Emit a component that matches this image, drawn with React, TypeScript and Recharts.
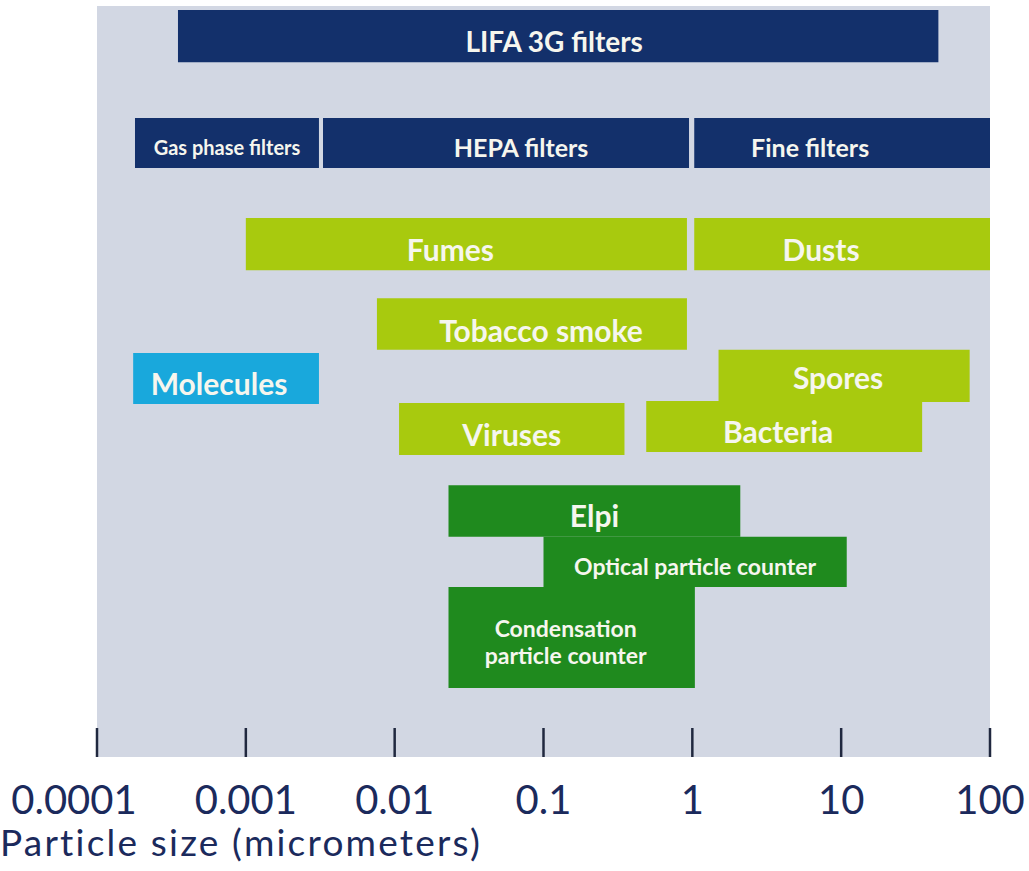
import React from "react";
import { ComposedChart, ReferenceArea, XAxis, YAxis } from "recharts";

// particle size axis (micrometers, log)
const sizeTicks = [0.0001, 0.001, 0.01, 0.1, 1, 10, 100];
const sizeTickLabels = ["0.0001", "0.001", "0.01", "0.1", "1", "10", "100"];

// size ranges in micrometers
const filterNames = ["LIFA 3G filters", "Gas phase filters", "HEPA filters", "Fine filters"];
const filterMin = [0.00035, 0.00018, 0.0033, 1.03];
const filterMax = [45, 0.0031, 0.95, 100];

const particleNames = ["Fumes", "Dusts", "Tobacco smoke", "Molecules", "Spores", "Viruses", "Bacteria"];
const particleMin = [0.001, 1.03, 0.0076, 0.000175, 1.5, 0.0107, 0.49];
const particleMax = [0.92, 100, 0.92, 0.0031, 73, 0.35, 35];

const instrumentNames = ["Elpi", "Optical particle counter", "Condensation\nparticle counter"];
const instrumentMin = [0.023, 0.1, 0.023];
const instrumentMax = [2.1, 10.9, 1.04];

const COLORS = {
  bg: "#d2d7e3",
  navy: "#13306b",
  lime: "#a8ca0e",
  cyan: "#19a8dc",
  green: "#1f8a1e",
  text: "#f6f6ee",
  axis: "#1b2a5c",
};

type Lane = { top: number; bottom: number; color: string; size: number; dx: number; dy: number };

// lane layout (top/bottom in lane units, 0 = top of the panel), colour, font size, label nudge
const layout: Record<string, Lane> = {
  "LIFA 3G filters": { top: 0.08, bottom: 1.1, color: COLORS.navy, size: 28, dx: -4, dy: 5 },
  "Gas phase filters": { top: 2.19, bottom: 3.17, color: COLORS.navy, size: 20, dx: 0, dy: 4 },
  "HEPA filters": { top: 2.19, bottom: 3.17, color: COLORS.navy, size: 25, dx: 15, dy: 4 },
  "Fine filters": { top: 2.19, bottom: 3.17, color: COLORS.navy, size: 25, dx: -32, dy: 4 },
  Fumes: { top: 4.15, bottom: 5.17, color: COLORS.lime, size: 30, dx: -16, dy: 5 },
  Dusts: { top: 4.15, bottom: 5.17, color: COLORS.lime, size: 30, dx: -21, dy: 5 },
  "Tobacco smoke": { top: 5.72, bottom: 6.73, color: COLORS.lime, size: 30, dx: 9, dy: 6 },
  Molecules: { top: 6.79, bottom: 7.79, color: COLORS.cyan, size: 30, dx: -7, dy: 5 },
  Spores: { top: 6.73, bottom: 7.75, color: COLORS.lime, size: 30, dx: -6, dy: 1 },
  Viruses: { top: 7.77, bottom: 8.79, color: COLORS.lime, size: 30, dx: 0, dy: 5 },
  Bacteria: { top: 7.73, bottom: 8.73, color: COLORS.lime, size: 30, dx: -6, dy: 5 },
  Elpi: { top: 9.38, bottom: 10.39, color: COLORS.green, size: 30, dx: 0, dy: 4 },
  "Optical particle counter": { top: 10.39, bottom: 11.37, color: COLORS.green, size: 23, dx: 0, dy: 4 },
  "Condensation\nparticle counter": { top: 11.37, bottom: 13.35, color: COLORS.green, size: 23, dx: -6, dy: 4 },
};

const LANES = 14.7;

const boxes = [
  ...filterNames.map((name, i) => ({ name, lo: filterMin[i], hi: filterMax[i] })),
  ...particleNames.map((name, i) => ({ name, lo: particleMin[i], hi: particleMax[i] })),
  ...instrumentNames.map((name, i) => ({ name, lo: instrumentMin[i], hi: instrumentMax[i] })),
].map((b) => ({ ...b, mid: (layout[b.name].top + layout[b.name].bottom) / 2 }));

const boxLabel = (text: string, lane: Lane) => (props: any) => {
  const { x, y, width, height } = props.viewBox;
  const lines = text.split("\n");
  const cx = x + width / 2 + lane.dx;
  const lh = lane.size * 1.2;
  const startY = y + height / 2 - ((lines.length - 1) * lh) / 2 + lane.dy;
  return (
    <text
      x={cx}
      y={startY}
      textAnchor="middle"
      dominantBaseline="central"
      fill={COLORS.text}
      fontSize={lane.size}
      fontWeight={700}
      fontFamily="Lato, 'Noto Sans', sans-serif"
    >
      {lines.map((line, i) => (
        <tspan key={i} x={cx} dy={i === 0 ? 0 : lh}>
          {line}
        </tspan>
      ))}
    </text>
  );
};

const SizeTick = (props: any) => {
  const { x, y, payload } = props;
  const idx = sizeTicks.indexOf(payload.value);
  return (
    <g>
      <line x1={x} x2={x} y1={y - 29} y2={y} stroke="#20283f" strokeWidth={2.5} />
      <text
        x={x + (idx === 0 ? -23 : 0)}
        y={y + 57}
        textAnchor="middle"
        fill={COLORS.axis}
        fontSize={40}
        fontFamily="Lato, 'Noto Sans', sans-serif"
      >
        {sizeTickLabels[idx]}
      </text>
    </g>
  );
};

const axisTitle = (props: any) => {
  const { y } = props.viewBox;
  return (
    <text
      x={0}
      y={y + 99}
      fill={COLORS.axis}
      fontSize={37}
      letterSpacing={2.2}
      fontFamily="Lato, 'Noto Sans', sans-serif"
    >
      Particle size (micrometers)
    </text>
  );
};

export default function App() {
  return (
    <div style={{ position: "absolute", left: 0, top: 0, width: 1029, height: 871, background: "#fff" }}>
      <ComposedChart width={1029} height={871} data={boxes} margin={{ top: 6, right: 39, bottom: 0, left: 97 }}>
        <XAxis
          dataKey="lo"
          type="number"
          scale="log"
          domain={[0.0001, 100]}
          ticks={sizeTicks}
          allowDataOverflow
          interval={0}
          height={114}
          tickSize={0}
          tickMargin={0}
          tickLine={false}
          axisLine={false}
          tick={<SizeTick />}
          label={axisTitle}
        />
        <YAxis dataKey="mid" type="number" domain={[0, LANES]} reversed hide width={0} allowDataOverflow />
        <ReferenceArea x1={0.0001} x2={100} y1={0} y2={LANES} fill={COLORS.bg} fillOpacity={1} stroke="none" />
        {boxes.map((b) => {
          const l = layout[b.name];
          return (
            <ReferenceArea
              key={b.name}
              x1={b.lo}
              x2={b.hi}
              y1={l.top}
              y2={l.bottom}
              fill={l.color}
              fillOpacity={1}
              stroke="none"
              label={boxLabel(b.name, l)}
            />
          );
        })}
      </ComposedChart>
    </div>
  );
}
